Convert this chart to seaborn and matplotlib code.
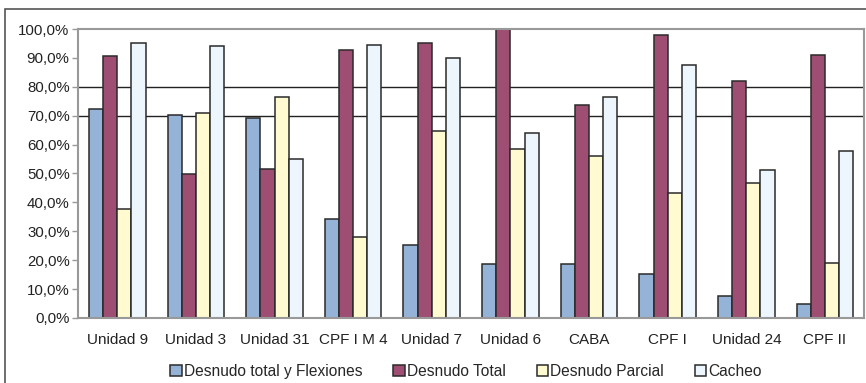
import matplotlib
matplotlib.use("Agg")
import matplotlib.pyplot as plt
import seaborn as sns
import pandas as pd
from matplotlib.patches import Rectangle
from matplotlib.ticker import FuncFormatter

categories = ["Unidad 9", "Unidad 3", "Unidad 31", "CPF I M 4", "Unidad 7",
              "Unidad 6", "CABA", "CPF I", "Unidad 24", "CPF II"]
series = ["Desnudo total y Flexiones", "Desnudo Total", "Desnudo Parcial", "Cacheo"]
flexiones = [72.3, 70.2, 69.2, 34.3, 25.3, 18.5, 18.5, 15.2, 7.7, 4.8]
total = [90.6, 49.8, 51.6, 92.7, 95.2, 100.0, 73.7, 98.0, 82.0, 91.0]
parcial = [37.8, 70.9, 76.5, 28.0, 64.7, 58.5, 56.0, 43.3, 46.7, 19.0]
cacheo = [95.2, 94.0, 55.0, 94.5, 90.0, 64.0, 76.5, 87.6, 51.2, 57.8]
colors = ["#95B3D7", "#9E4E72", "#FFFAD0", "#EEF6FD"]

rows = []
for name, vals in zip(series, [flexiones, total, parcial, cacheo]):
    for cat, v in zip(categories, vals):
        rows.append({"Centro": cat, "Serie": name, "Valor": v / 100})
df = pd.DataFrame(rows)

sns.set_theme(style="white")
plt.rcParams["font.family"] = ["Liberation Sans", "DejaVu Sans"]

fig = plt.figure(figsize=(8.66, 3.83), dpi=100)
ax = fig.add_axes([0.090, 0.170, 0.908, 0.754])

# outer chart frame
fig.patches.append(Rectangle((5 / 866, -0.05), 1.0, 1 - 9 / 383 + 0.05,
                             transform=fig.transFigure, fill=False,
                             edgecolor="#555555", linewidth=1.2, zorder=0))

sns.barplot(data=df, x="Centro", y="Valor", hue="Serie", order=categories,
            hue_order=series, palette=colors, width=0.72, gap=0,
            edgecolor="#2a2a2a", linewidth=1.1, saturation=1, ax=ax,
            legend=True)

for g in (0.7, 0.8):
    ax.axhline(g, color="#222222", linewidth=1.0, zorder=0.5)

ax.set_ylim(0, 1.0)
ax.set_xlim(-0.5, len(categories) - 0.5)
ax.set_yticks([i / 10 for i in range(11)])
ax.yaxis.set_major_formatter(FuncFormatter(lambda v, p: f"{v*100:.1f}%".replace(".", ",")))
ax.tick_params(axis="y", which="major", left=True, length=4, width=1,
               color="#999999", labelsize=10.8, pad=2, labelcolor="#222222")
ax.tick_params(axis="x", bottom=False, labelsize=11, pad=5, labelcolor="#222222")
ax.set_xlabel("")
ax.set_ylabel("")
for s in ax.spines.values():
    s.set_color("#999999")
    s.set_linewidth(1.5)

h, l = ax.get_legend_handles_labels()
ax.get_legend().remove()
fig.legend(h, l, loc="center", bbox_to_anchor=(0.538, 0.030), ncol=4,
           frameon=False, fontsize=11.2, handlelength=0.75, handleheight=0.75,
           handletextpad=0.1, columnspacing=2.0, borderaxespad=0)

fig.savefig("out.png", dpi=100)
